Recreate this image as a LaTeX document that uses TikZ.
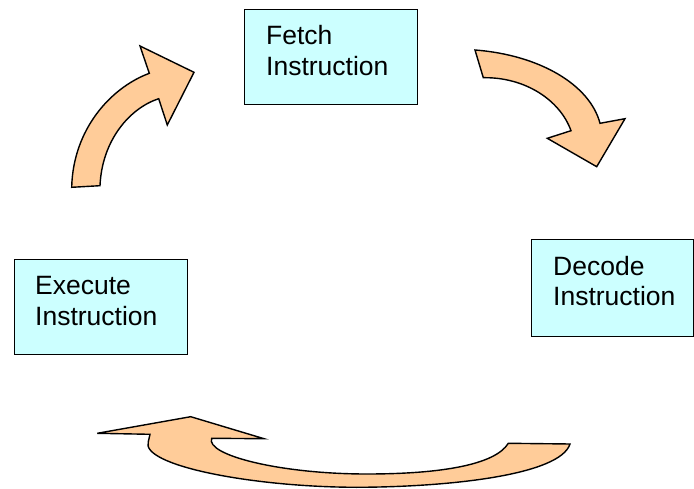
\documentclass[tikz,border=0pt]{standalone}
\usepackage{fontspec}
\setmainfont{Liberation Sans}
\usetikzlibrary{calc}
\definecolor{boxfill}{HTML}{CCFFFF}
\definecolor{arrowfill}{HTML}{FFCC99}
\tikzset{
  stagebox/.style={draw=black, fill=boxfill, line width=1.3pt, rectangle,
    minimum width=173pt, minimum height=95pt, inner sep=0pt, anchor=north west},
  stagetext/.style={anchor=base west, align=left, inner sep=0pt,
    font=\fontsize{26.5pt}{31pt}\selectfont},
  bigarrow/.style={draw=black, fill=arrowfill, line width=1.4pt, line join=miter}
}
\begin{document}
\begin{tikzpicture}[x=1pt, y=-1pt]
  \useasboundingbox (0,0) rectangle (694,489);

  % stage boxes
  \node[stagebox] (fetch) at (244,9) {};
  \node[stagebox, minimum width=162pt, minimum height=97pt] (decode) at (531,239) {};
  \node[stagebox] (execute) at (14,259) {};

  % stage labels (base anchor sits on the last line)
  \node[stagetext] (fetchtext) at ($(fetch.north west)+(22,67)$) {Fetch\\Instruction};
  \node[stagetext] (decodetext) at ($(decode.north west)+(22,67)$) {Decode\\Instruction};
  \node[stagetext] (executetext) at ($(execute.north west)+(21,67)$) {Execute\\Instruction};

  % curved arrow: execute -> fetch
  \path[bigarrow] (71.7,187.3) .. controls (73,130) and (110,88) .. (149.3,73.3)
    -- (140,46) -- (194,72.3) -- (167.3,125) -- (158.7,98.7)
    .. controls (130,108) and (102,140) .. (100,185.7) -- cycle;

  % curved arrow: fetch -> decode
  \path[bigarrow] (475,50) .. controls (540,55) and (590,85) .. (600,123.3)
    -- (625,118.7) -- (596.7,166.7) -- (547.3,138.3) -- (571,130.7)
    .. controls (560,100) and (525,77) .. (483.3,77.7) -- cycle;

  % curved arrow along the bottom: decode -> execute
  \path[bigarrow] (97.3,433.3) -- (190.7,416.7) -- (264,438.7) -- (211.7,438.3)
    .. controls (205,455) and (280,474) .. (366.7,474)
    .. controls (440,474) and (495,465) .. (508.3,443.3)
    -- (570,444)
    .. controls (560,475) and (450,487) .. (356.7,487.3)
    .. controls (250,487) and (140,465) .. (148.3,441.7)
    -- (150,434.3) -- cycle;
\end{tikzpicture}
\end{document}
